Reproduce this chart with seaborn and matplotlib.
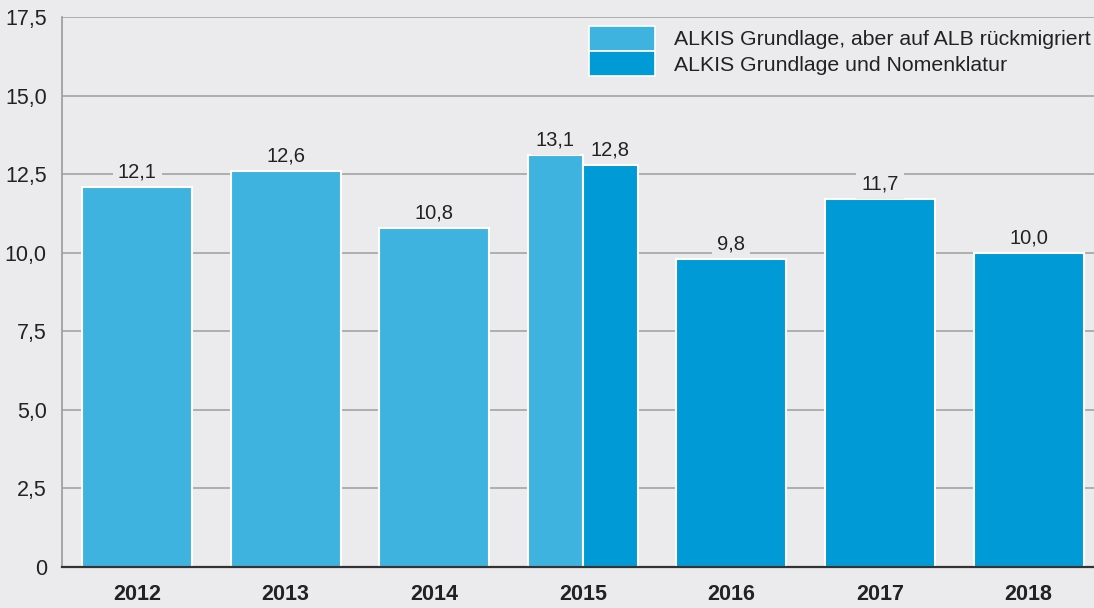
import matplotlib
matplotlib.use("Agg")
import matplotlib.pyplot as plt
import matplotlib.patches as mpatches
from matplotlib.ticker import FuncFormatter
import numpy as np
import pandas as pd
import seaborn as sns

years = ['2012', '2013', '2014', '2015', '2016', '2017', '2018']
series = ['ALKIS Grundlage, aber auf ALB rückmigriert', 'ALKIS Grundlage und Nomenklatur']
rueckmigriert = [12.1, 12.6, 10.8, 13.1, np.nan, np.nan, np.nan]
nomenklatur = [np.nan, np.nan, np.nan, 12.8, 9.8, 11.7, 10.0]
colors = ['#3fb3df', '#009ad6']
bg = '#ebebee'

df = pd.DataFrame({
    'year': years * 2,
    'series': [series[0]] * len(years) + [series[1]] * len(years),
    'value': rueckmigriert + nomenklatur,
}).dropna()

# years with both series get dodged bars, the rest a single centered bar
counts = df.groupby('year')['value'].transform('count')
single = df[counts == 1]
double = df[counts == 2]

sns.set_style('white')
plt.rcParams['font.family'] = ['Liberation Sans', 'DejaVu Sans']

fig, ax = plt.subplots(figsize=(10.94, 6.08), dpi=100)
fig.patch.set_facecolor(bg)
ax.set_facecolor(bg)
fig.subplots_adjust(left=0.0567, right=1.0, top=0.972, bottom=0.0675)

sns.barplot(data=single, x='year', y='value', hue='series', order=years, hue_order=series,
            palette=colors, saturation=1, dodge=False, width=0.74, edgecolor='white',
            linewidth=1.5, legend=False, ax=ax, zorder=3)
sns.barplot(data=double, x='year', y='value', hue='series', order=years, hue_order=series,
            palette=colors, saturation=1, dodge=True, width=0.74, edgecolor='white',
            linewidth=1.5, legend=False, ax=ax, zorder=3)

# value labels with a background box that cuts the gridlines
for bar in ax.patches:
    h = bar.get_height()
    if np.isnan(h) or h == 0:
        continue
    ax.annotate(f"{h:.1f}".replace('.', ','), (bar.get_x() + bar.get_width() / 2, h),
                xytext=(0, 4), textcoords='offset points', ha='center', va='bottom',
                fontsize=14.5, color='#222222', zorder=4,
                bbox=dict(boxstyle='square,pad=0.25', facecolor=bg, edgecolor='none'))

ax.set_ylim(0, 17.5)
ax.set_xlim(-0.505, 6.44)
ax.set_yticks(np.arange(0, 17.6, 2.5))
ax.yaxis.set_major_formatter(FuncFormatter(lambda v, p: '0' if v == 0 else f"{v:.1f}".replace('.', ',')))
ax.grid(axis='y', color='#a9a9a9', linewidth=1.3, zorder=0)
ax.set_axisbelow(True)
ax.tick_params(axis='y', length=5, width=1.3, color='#a9a9a9', labelsize=15.5, labelcolor='#222222', pad=6)
ax.tick_params(axis='x', length=0, labelsize=15.5, labelcolor='#222222', pad=12)
for lbl in ax.get_xticklabels():
    lbl.set_fontweight('bold')
ax.set_xlabel('')
ax.set_ylabel('')

for s in ['top', 'right']:
    ax.spines[s].set_visible(False)
ax.spines['left'].set_color('#9a9a9a')
ax.spines['left'].set_linewidth(1.2)
ax.spines['bottom'].set_color('#333333')
ax.spines['bottom'].set_linewidth(1.6)
ax.spines['bottom'].set_zorder(5)

handles = [mpatches.Patch(facecolor=c, edgecolor='white', linewidth=1.2) for c in colors]
ax.legend(handles, series, loc='upper right', bbox_to_anchor=(1.0, 0.99), frameon=False,
          fontsize=15.3, handlelength=3.1, handleheight=1.45, labelspacing=0.0,
          handletextpad=0.9, borderpad=0.15, borderaxespad=0.0, labelcolor='#222222')

fig.savefig('out.png', dpi=100, facecolor=bg)
